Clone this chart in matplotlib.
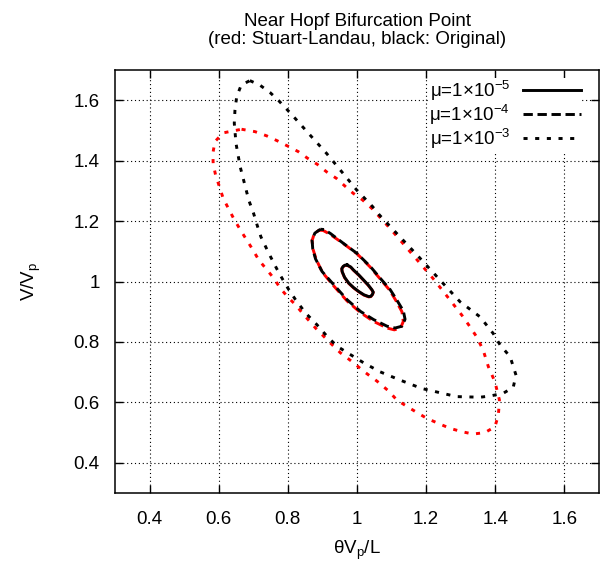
import numpy as np
import matplotlib
matplotlib.use("Agg")
import matplotlib.pyplot as plt

plt.rcParams['font.family'] = ['Liberation Sans', 'DejaVu Sans']
plt.rcParams['mathtext.fontset'] = 'custom'
plt.rcParams['mathtext.rm'] = 'Liberation Sans'
plt.rcParams['mathtext.it'] = 'Liberation Sans:italic'

# mu = 1e-5 (solid)
blk5_x = [0.971, 0.982, 0.990, 1.005, 1.019, 1.032, 1.043, 1.047, 1.045, 1.040, 1.034, 1.020,
          1.005, 0.990, 0.976, 0.964, 0.957, 0.956, 0.960, 0.965, 0.971]
blk5_y = [1.055, 1.048, 1.038, 1.022, 1.005, 0.989, 0.973, 0.965, 0.958, 0.951, 0.950, 0.956,
          0.967, 0.980, 0.995, 1.014, 1.033, 1.043, 1.050, 1.054, 1.055]
red5_x = [0.971, 0.982, 0.990, 1.005, 1.019, 1.032, 1.043, 1.047, 1.045, 1.040, 1.034, 1.020,
          1.005, 0.990, 0.976, 0.964, 0.957, 0.956, 0.960, 0.965, 0.971]
red5_y = [1.054, 1.047, 1.037, 1.021, 1.004, 0.988, 0.972, 0.964, 0.957, 0.950, 0.949, 0.955,
          0.966, 0.979, 0.994, 1.013, 1.032, 1.042, 1.049, 1.053, 1.054]

# mu = 1e-4 (dashed)
blk4_x = [0.894, 0.878, 0.870, 0.872, 0.880, 0.899, 0.933, 0.971, 1.010, 1.048, 1.087,
          1.110, 1.130, 1.139, 1.134, 1.115, 1.096, 1.067, 1.039, 1.000, 0.961, 0.923, 0.905, 0.894]
blk4_y = [1.173, 1.160, 1.137, 1.108, 1.075, 1.033, 0.989, 0.940, 0.901, 0.874, 0.852,
          0.846, 0.852, 0.875, 0.903, 0.939, 0.973, 1.011, 1.049, 1.093, 1.126, 1.159, 1.172, 1.173]
red4_x = [0.890, 0.876, 0.870, 0.873, 0.882, 0.900, 0.933, 0.971, 1.010, 1.048, 1.087,
          1.108, 1.126, 1.134, 1.130, 1.112, 1.094, 1.066, 1.038, 1.000, 0.960, 0.921, 0.902, 0.890]
red4_y = [1.170, 1.157, 1.135, 1.106, 1.073, 1.030, 0.985, 0.936, 0.897, 0.868, 0.846,
          0.840, 0.846, 0.868, 0.900, 0.938, 0.972, 1.010, 1.048, 1.092, 1.126, 1.157, 1.169, 1.170]

# mu = 1e-3 (dotted)
blk3_x = [0.690, 0.719, 0.748, 0.774, 0.797, 0.821, 0.864, 0.912, 0.956, 0.999, 1.045, 1.065,
          1.120, 1.180, 1.240, 1.298, 1.356, 1.394, 1.414, 1.443, 1.460, 1.452, 1.423, 1.385,
          1.356, 1.288, 1.221, 1.187, 1.124, 1.067, 1.019, 0.981, 0.942, 0.913, 0.884, 0.851,
          0.822, 0.800, 0.783, 0.767, 0.745, 0.722, 0.711, 0.701, 0.687, 0.662, 0.650, 0.645,
          0.647, 0.652, 0.665, 0.690]
blk3_y = [1.665, 1.650, 1.626, 1.598, 1.570, 1.540, 1.485, 1.424, 1.363, 1.303, 1.248, 1.220,
          1.153, 1.080, 1.005, 0.933, 0.883, 0.828, 0.790, 0.751, 0.690, 0.650, 0.630, 0.621,
          0.617, 0.619, 0.637, 0.646, 0.674, 0.701, 0.731, 0.758, 0.786, 0.819, 0.857, 0.896,
          0.940, 0.978, 1.011, 1.044, 1.093, 1.148, 1.187, 1.225, 1.269, 1.380, 1.457, 1.524,
          1.568, 1.612, 1.650, 1.665]
red3_x = [0.666, 0.705, 0.739, 0.769, 0.800, 0.830, 0.857, 0.885, 0.912, 0.941, 0.965, 0.989,
          1.016, 1.043, 1.100, 1.160, 1.220, 1.269, 1.303, 1.327, 1.346, 1.365, 1.380, 1.399,
          1.412, 1.409, 1.399, 1.370, 1.336, 1.303, 1.269, 1.240, 1.202, 1.177, 1.148, 1.115,
          1.092, 1.058, 1.019, 0.990, 0.952, 0.918, 0.880, 0.846, 0.822, 0.798, 0.778, 0.759,
          0.740, 0.716, 0.696, 0.663, 0.643, 0.628, 0.613, 0.602, 0.591, 0.584, 0.583, 0.589,
          0.613, 0.666]
red3_y = [1.504, 1.496, 1.482, 1.466, 1.448, 1.430, 1.408, 1.388, 1.363, 1.341, 1.316, 1.292,
          1.270, 1.242, 1.170, 1.090, 1.010, 0.939, 0.889, 0.850, 0.817, 0.773, 0.718, 0.668,
          0.608, 0.558, 0.519, 0.500, 0.495, 0.503, 0.514, 0.528, 0.547, 0.564, 0.584, 0.608,
          0.637, 0.670, 0.703, 0.731, 0.764, 0.802, 0.846, 0.890, 0.923, 0.951, 0.978, 1.011,
          1.038, 1.071, 1.110, 1.170, 1.209, 1.242, 1.275, 1.314, 1.352, 1.389, 1.424, 1.463,
          1.492, 1.504]

ticks = [0.4, 0.6, 0.8, 1.0, 1.2, 1.4, 1.6]
tick_labels = ['0.4', '0.6', '0.8', '1', '1.2', '1.4', '1.6']

fig = plt.figure(figsize=(6, 5.62), dpi=100)
ax = fig.add_axes([0.1917, 0.1228, 0.8066, 0.7526])

lw = 2.1
dashed = (0, (3.2, 1.6))
dotted = (0, (1.4, 2.6))

ax.plot(red5_x, red5_y, color='red', lw=lw)
ax.plot(red4_x, red4_y, color='red', lw=lw, linestyle=(2.2, (3.2, 1.6)))
ax.plot(red3_x, red3_y, color='red', lw=lw, linestyle=dotted)
ax.plot(blk5_x, blk5_y, color='black', lw=lw, label=r'μ=1×10$^{-5}$')
ax.plot(blk4_x, blk4_y, color='black', lw=lw, linestyle=dashed, label=r'μ=1×10$^{-4}$')
ax.plot(blk3_x, blk3_y, color='black', lw=lw, linestyle=dotted, label=r'μ=1×10$^{-3}$')

ax.set_xlim(0.3, 1.7)
ax.set_ylim(0.3, 1.7)
ax.set_xticks(ticks)
ax.set_xticklabels(tick_labels)
ax.set_yticks(ticks)
ax.set_yticklabels(tick_labels)
ax.tick_params(direction='in', length=6, width=1, top=True, right=True, labelsize=13.5)
ax.tick_params(axis='x', pad=13)
ax.tick_params(axis='y', pad=11)
ax.grid(True, color='black', linestyle=(0, (1, 2.5)), linewidth=0.8)
for s in ax.spines.values():
    s.set_linewidth(1.1)
    s.set_zorder(6)

ax.set_xlabel(r'θV$_{\mathrm{p}}$/L', fontsize=13.5, labelpad=8)
ax.set_ylabel(r'V/V$_{\mathrm{p}}$', fontsize=13.5, labelpad=22)
ax.set_title('Near Hopf Bifurcation Point\n(red: Stuart-Landau, black: Original)',
             fontsize=13.5, linespacing=1.05, pad=19)

leg = ax.legend(loc='upper right', bbox_to_anchor=(0.985, 1.004), markerfirst=False,
                fontsize=13.5, handlelength=3.1, handletextpad=0.7, labelspacing=0.0,
                borderpad=0.05, frameon=True, fancybox=False, framealpha=1.0)
leg.get_frame().set_edgecolor('none')
leg.get_frame().set_facecolor('white')

fig.savefig('out.png', dpi=100)
